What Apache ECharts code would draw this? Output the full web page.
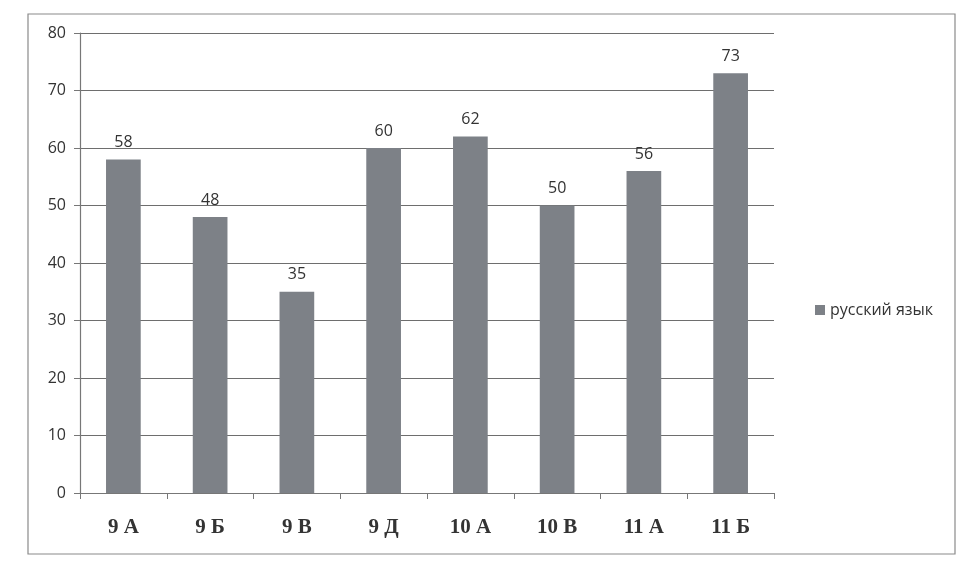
<!DOCTYPE html>
<html><head><meta charset="utf-8">
<script src="https://cdn.jsdelivr.net/npm/echarts@6/dist/echarts.min.js"></script>
<style>html,body{margin:0;padding:0;background:#fff}#c{width:962px;height:574px}</style>
</head><body><div id="c"></div>
<script>
const categories = ['9 А','9 Б','9 В','9 Д','10 А','10 В','11 А','11 Б'];
const values = [58, 48, 35, 60, 62, 50, 56, 73];
const seriesName = 'русский язык';

const chart = echarts.init(document.getElementById('c'));
chart.setOption({
  animation: false,
  backgroundColor: '#fff',
  graphic: [{
    type: 'rect', shape: {x: 28, y: 14, width: 927, height: 540},
    style: {fill: 'none', stroke: '#8a8a8a', lineWidth: 1.2}, z: -1
  }],
  grid: {left: 80, right: 188, top: 33, bottom: 81},
  legend: {
    orient: 'vertical', left: 810, top: 297,
    itemWidth: 10, itemHeight: 10, icon: 'rect', itemGap: 4,
    textStyle: {fontFamily: 'Open Sans', fontSize: 16, color: '#333'},
    data: [seriesName]
  },
  xAxis: {
    type: 'category', data: categories,
    axisLine: {lineStyle: {color: '#777', width: 1.2}},
    axisTick: {show: true, length: 6, lineStyle: {color: '#777'}},
    axisLabel: {fontFamily: 'Liberation Serif', fontWeight: 'bold', fontSize: 21, color: '#333', margin: 24}
  },
  yAxis: {
    type: 'value', min: 0, max: 80, interval: 10,
    axisLine: {show: true, lineStyle: {color: '#777', width: 1.2}},
    axisTick: {show: true, length: 6, lineStyle: {color: '#777'}},
    axisLabel: {fontFamily: 'Open Sans', fontSize: 16, color: '#333', margin: 14},
    splitLine: {lineStyle: {color: '#6e6e6e', width: 1.2}}
  },
  series: [{
    name: seriesName, type: 'bar', data: values, barWidth: '40%',
    itemStyle: {color: '#7d8187'},
    label: {show: true, position: 'top', distance: 9, fontFamily: 'Open Sans', fontSize: 16, color: '#333'}
  }]
});
</script></body></html>
